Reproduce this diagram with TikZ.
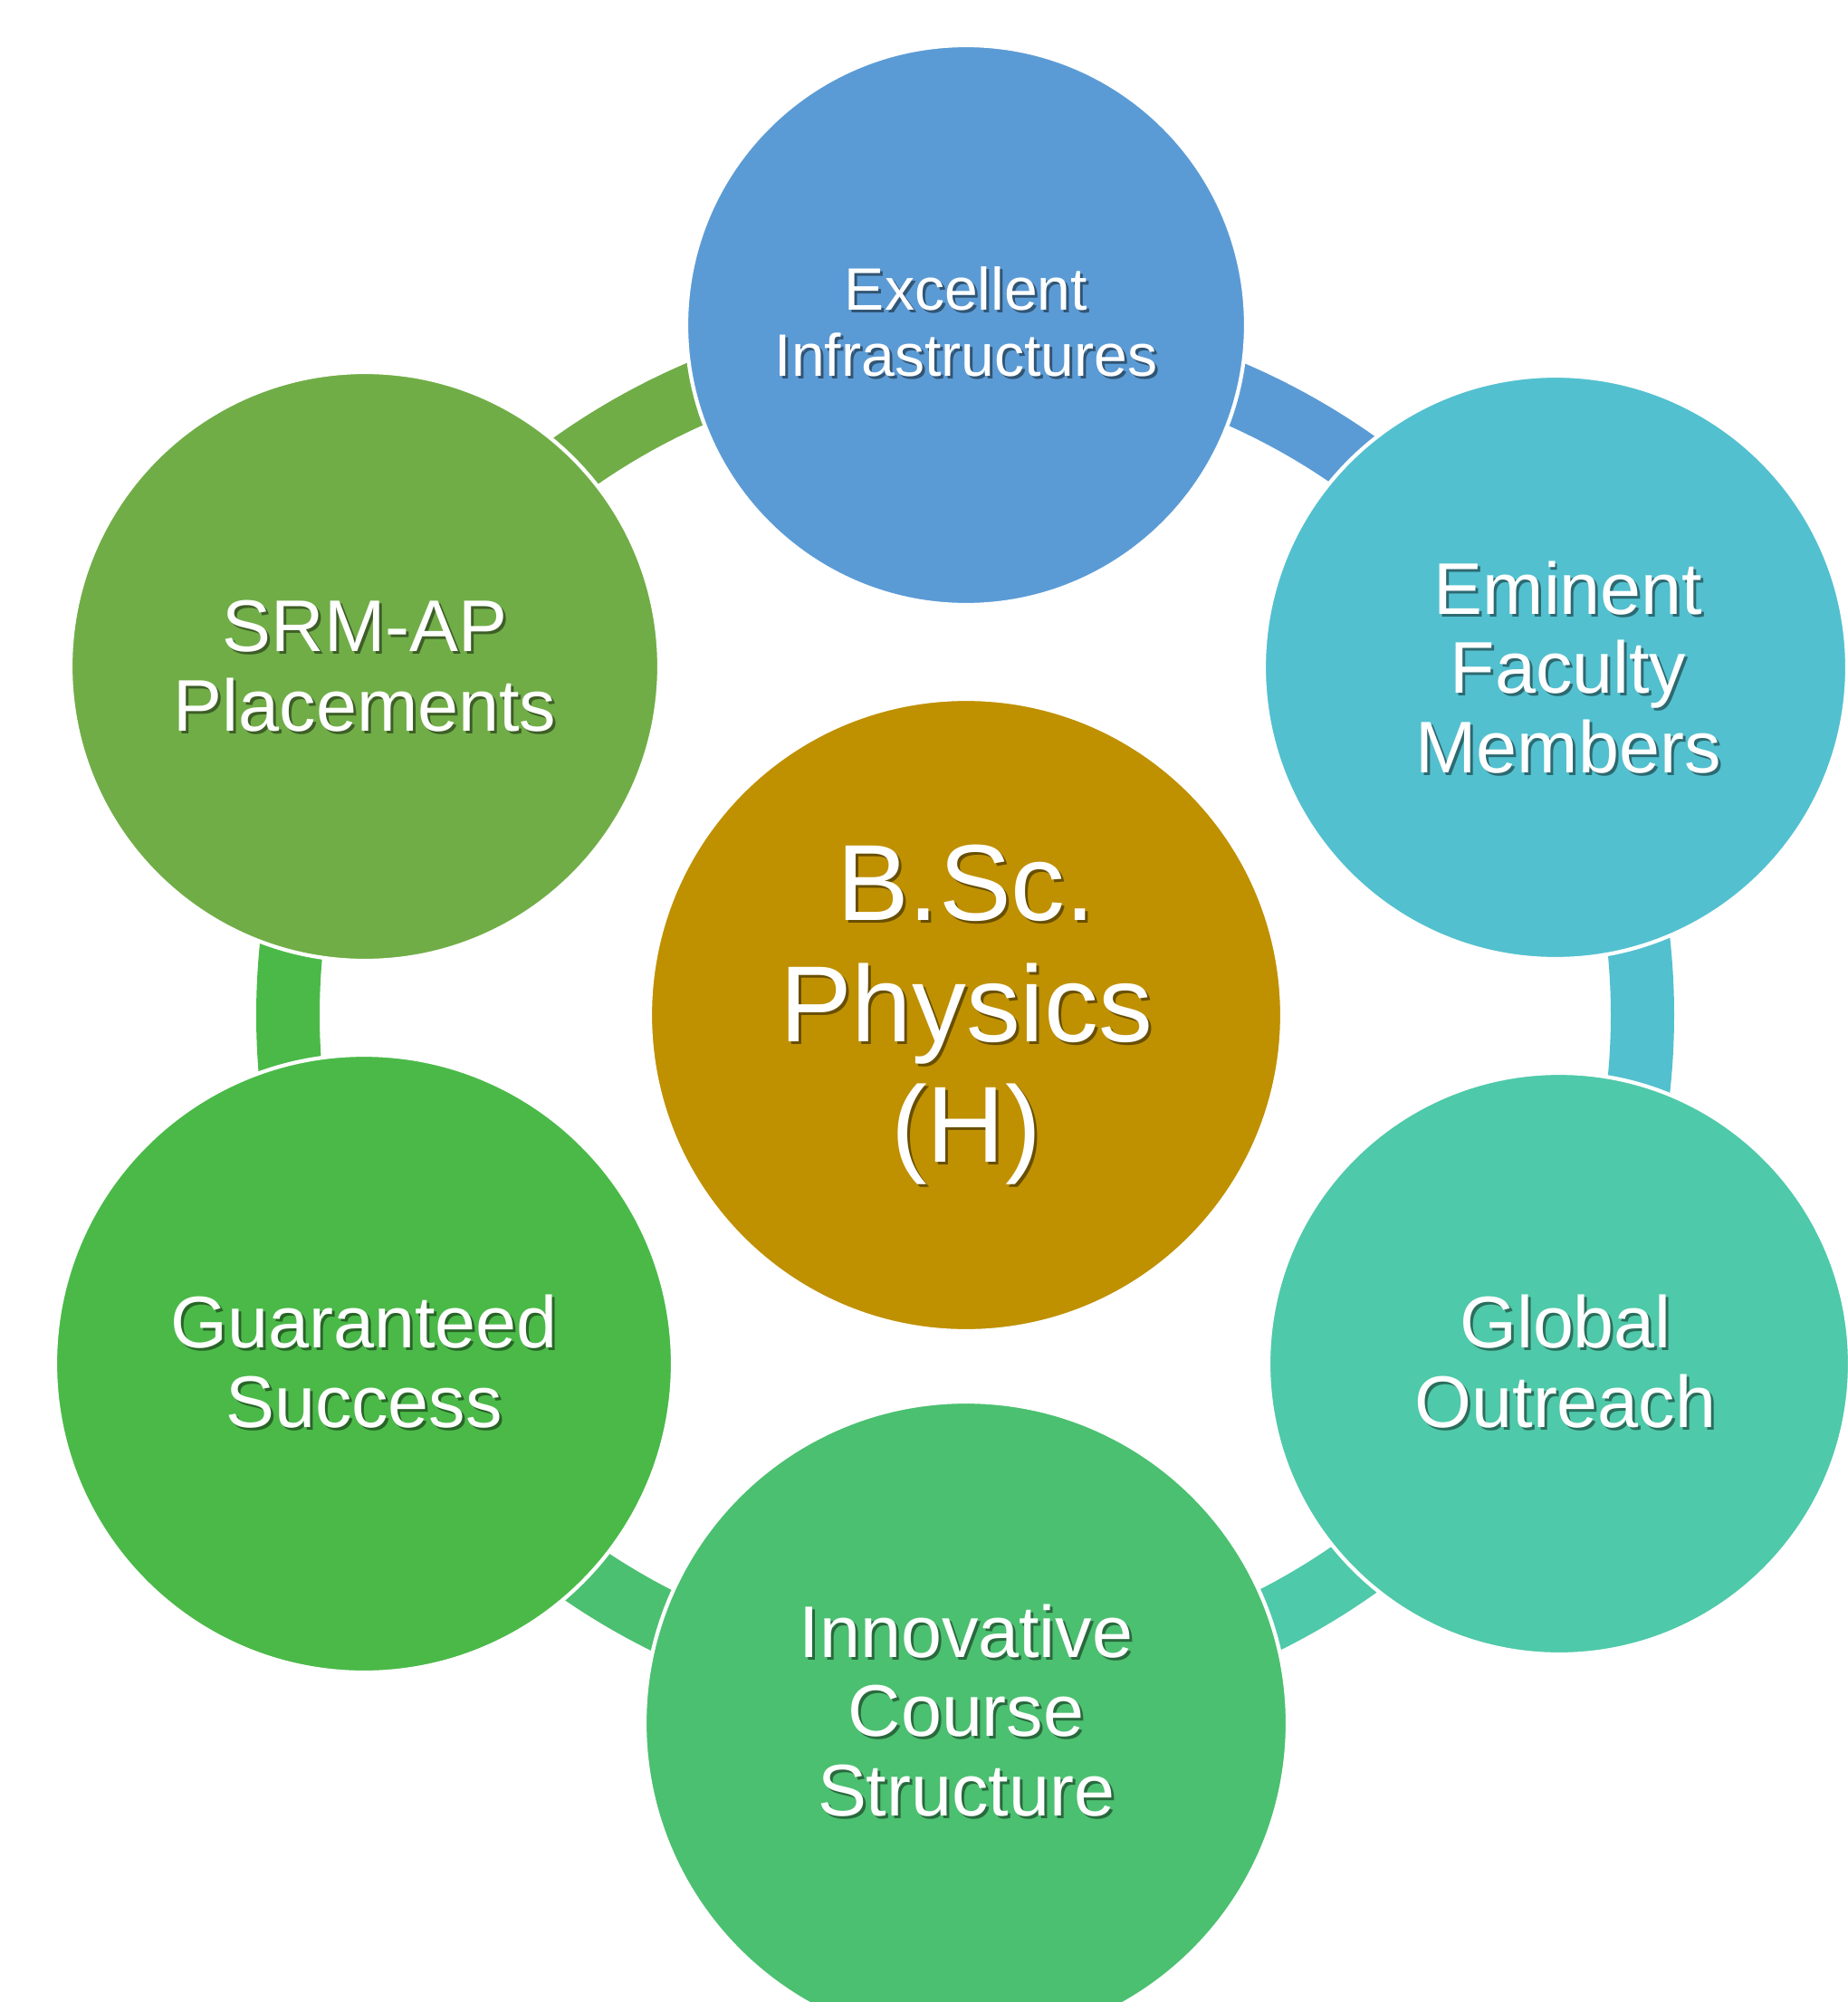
\documentclass[tikz,border=0pt]{standalone}
\usepackage{fontspec}
\setmainfont{Liberation Sans}
\usetikzlibrary{positioning}

\definecolor{infracol}{HTML}{5B9BD5}
\definecolor{facultycol}{HTML}{52C0CF}
\definecolor{outreachcol}{HTML}{4EC9A9}
\definecolor{coursecol}{HTML}{4BC070}
\definecolor{successcol}{HTML}{4AB948}
\definecolor{placecol}{HTML}{70AD47}
\definecolor{hubcol}{HTML}{BF9000}

\newcommand\smallfont{\fontsize{18.8}{20.8}\selectfont}
\newcommand\sidefont{\fontsize{23}{25}\selectfont}
\newcommand\hubfont{\fontsize{34}{38}\selectfont}

\tikzset{
  disc/.style={circle, draw=white, line width=1.2pt, inner sep=0pt},
  band/.style={line width=7mm},
  caption/.style={align=center, text=white, inner sep=0pt},
  drop/.style={caption, text=black, opacity=.45, xshift=.3mm, yshift=-.3mm}
}

\begin{document}
\begin{tikzpicture}

\fill[white] (0,0) rectangle (20.41,-22.11);
\useasboundingbox (0,0) rectangle (20.41,-22.11);

\coordinate (mid) at (10.66,-11.21);

% ring pieces, each one in the colour of the disc it leaves from
\foreach \from/\to/\col in {90/30/infracol, 30/-30/facultycol, -30/-90/outreachcol, -90/-150/coursecol, -150/-210/successcol, 150/90/placecol}
	\draw[band, \col] ([shift={(\from:7.48)}]mid) arc[start angle=\from, end angle=\to, radius=7.48];

\foreach \n/\x/\y/\d/\col in {infra/10.67/-3.59/6.18/infracol, faculty/17.18/-7.37/6.44/facultycol, outreach/17.22/-15.06/6.42/outreachcol, course/10.67/-19.03/7.10/coursecol, success/4.02/-15.06/6.82/successcol, place/4.03/-7.36/6.50/placecol, hub/10.67/-11.21/6.98/hubcol}
	\node[disc, minimum size=\d cm, fill=\col] (\n) at (\x,\y) {};

% labels with a soft dark copy underneath
\foreach \n/\dx/\dy/\f/\txt in {infra/0/0.04/\smallfont/{Excellent\\Infrastructures}, faculty/0.14/0/\sidefont/{Eminent\\Faculty\\Members}, outreach/0.07/0.02/\sidefont/{Global\\Outreach}, course/0/0.14/\sidefont/{Innovative\\Course\\Structure}, success/0/0.02/\sidefont/{Guaranteed\\Success}, place/0/0/\sidefont/{SRM-AP\\Placements}, hub/0/0/\hubfont/{B.Sc.\\Physics\\(H)}}{
	\node[drop, font=\f] at ([shift={(\dx,\dy)}]\n) {\txt};
	\node[caption, font=\f] (\n-lbl) at ([shift={(\dx,\dy)}]\n) {\txt};
}

\end{tikzpicture}
\end{document}
